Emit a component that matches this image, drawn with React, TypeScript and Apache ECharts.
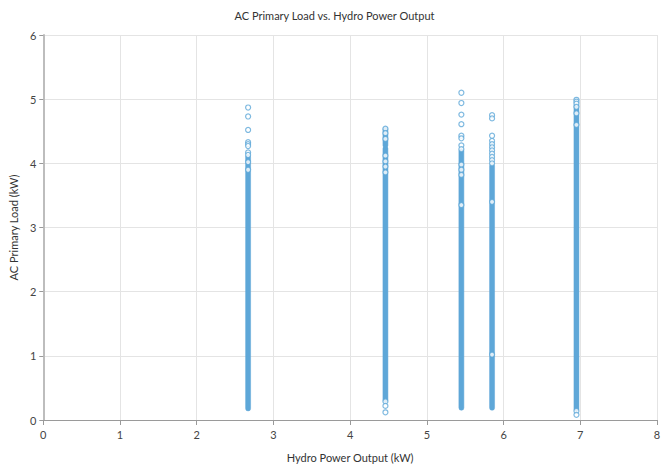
import React, { useEffect, useRef } from "react";
import * as echarts from "echarts";

const title = "AC Primary Load vs. Hydro Power Output";
const xAxisName = "Hydro Power Output (kW)";
const yAxisName = "AC Primary Load (kW)";

// dense (overlapping) runs of points per column: [hydro kW, load low, load high]
const denseRuns: [number, number, number][] = [
  [2.67, 0.18, 4.1],
  [4.46, 0.31, 4.23],
  [4.46, 4.28, 4.53],
  [5.45, 0.19, 4.19],
  [5.85, 0.19, 3.96],
  [6.95, 0.17, 4.9],
];

// individual, separately visible points
const col1: number[] = [4.87, 4.73, 4.52, 4.33, 4.3, 4.27, 4.17, 4.13, 4.02, 3.9];
const col2: number[] = [4.54, 4.47, 4.38, 4.12, 4.03, 3.95, 3.86, 0.29, 0.22, 0.12];
const col3: number[] = [5.1, 4.94, 4.76, 4.61, 4.43, 4.39, 4.28, 4.22, 3.98, 3.9, 3.82, 3.35];
const col4: number[] = [4.75, 4.7, 4.43, 4.35, 4.3, 4.25, 4.2, 4.15, 4.1, 4.05, 4.0, 3.4, 1.02];
const col5: number[] = [4.99, 4.96, 4.93, 4.88, 4.78, 4.6, 0.14, 0.08];
const colX: number[] = [2.67, 4.46, 5.45, 5.85, 6.95];

const blue = "#5ea7d8";
const font = "Lato, 'Open Sans', sans-serif";

export default function App() {
  const ref = useRef<HTMLDivElement>(null);
  useEffect(() => {
    document.body.style.margin = "0";
    const chart = echarts.init(ref.current!, null, { renderer: "svg" });
    const cols = [col1, col2, col3, col4, col5];
    const points: [number, number][] = [];
    cols.forEach((c, i) => c.forEach((y) => points.push([colX[i], y])));
    chart.setOption({
      animation: false,
      backgroundColor: "#ffffff",
      textStyle: { fontFamily: font },
      title: {
        text: title,
        left: "center",
        top: 5,
        textStyle: { fontSize: 11, fontWeight: "normal", color: "#333", fontFamily: font },
      },
      grid: { left: 42, right: 12, top: 35, bottom: 45, containLabel: false },
      xAxis: {
        type: "value",
        min: 0,
        max: 8,
        interval: 1,
        name: xAxisName,
        nameLocation: "middle",
        nameGap: 32,
        nameTextStyle: { fontSize: 11, color: "#333", fontFamily: font },
        axisLine: { show: true, onZero: false, lineStyle: { color: "#9a9a9a", width: 1 } },
        axisTick: { show: true, length: 5, lineStyle: { color: "#9a9a9a" } },
        axisLabel: { fontSize: 11, color: "#444", margin: 9, fontFamily: font },
        splitLine: { show: true, lineStyle: { color: "#e4e4e4", width: 1 } },
      },
      yAxis: {
        type: "value",
        min: 0,
        max: 6,
        interval: 1,
        name: yAxisName,
        nameLocation: "middle",
        nameGap: 19,
        nameTextStyle: { fontSize: 11, color: "#333", fontFamily: font },
        axisLine: { show: true, onZero: false, lineStyle: { color: "#bdbdbd", width: 2 } },
        axisTick: { show: true, length: 4, lineStyle: { color: "#9a9a9a" } },
        axisLabel: { fontSize: 11, color: "#444", margin: 7, fontFamily: font },
        splitLine: { show: true, lineStyle: { color: "#e4e4e4", width: 1 } },
      },
      series: [
        {
          type: "custom",
          data: denseRuns,
          encode: { x: 0, y: [1, 2] },
          renderItem: (params: any, api: any) => {
            const x = api.value(0);
            const lo = api.coord([x, api.value(1)]);
            const hi = api.coord([x, api.value(2)]);
            const w = 5;
            return {
              type: "rect",
              shape: { x: lo[0] - w / 2, y: hi[1] - w / 2, width: w, height: lo[1] - hi[1] + w, r: w / 2 },
              style: { fill: blue, stroke: blue, lineWidth: 0.5 },
            };
          },
          z: 2,
        },
        {
          type: "scatter",
          data: points,
          symbol: "circle",
          symbolSize: 5,
          itemStyle: { color: "#ffffff", borderColor: blue, borderWidth: 1.2 },
          z: 3,
        },
      ],
    });
    return () => chart.dispose();
  }, []);
  return (
    <div
      ref={ref}
      style={{ position: "fixed", left: 0, top: 0, width: 669, height: 468 }}
    />
  );
}
